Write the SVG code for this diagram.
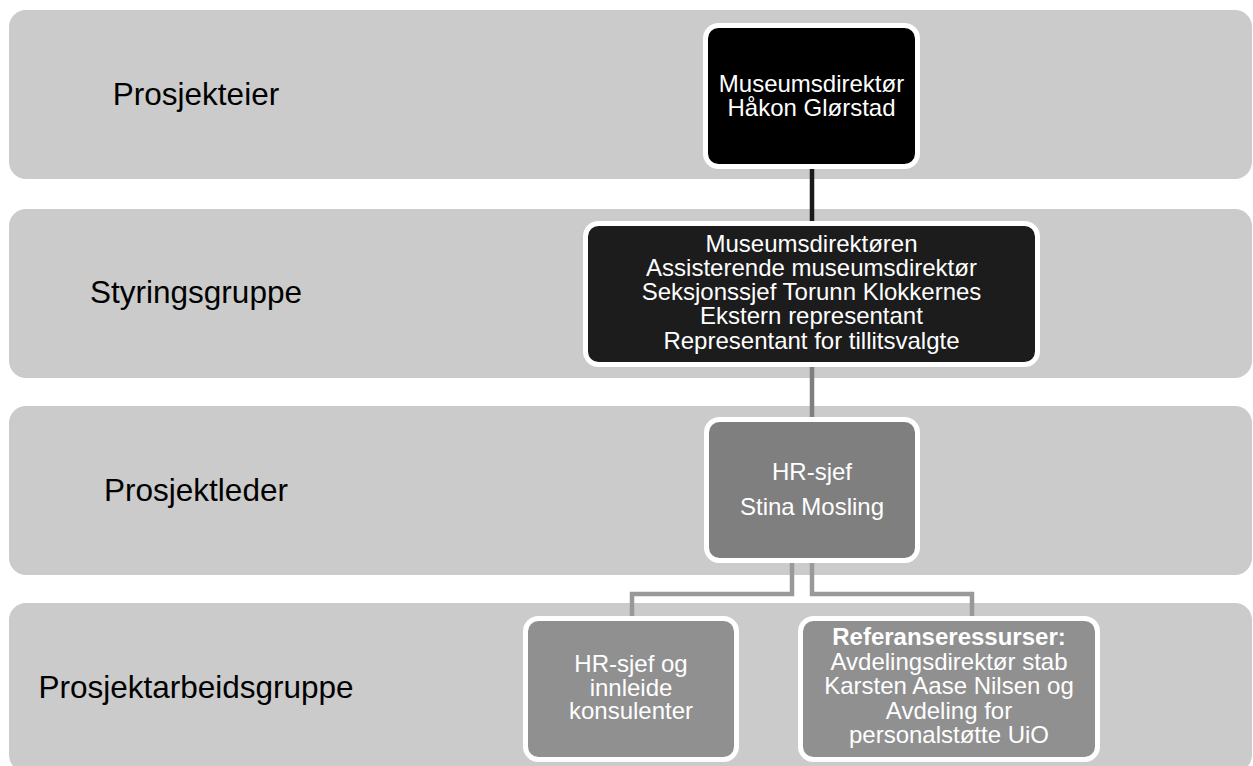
<svg xmlns="http://www.w3.org/2000/svg" width="1253" height="766" viewBox="0 0 1253 766">
<style>
.band{fill:#cbcbcb;}
.lbl{font-family:"Liberation Sans",Arial,sans-serif;font-size:31.5px;fill:#000;text-anchor:middle;}
.node{stroke:#fff;stroke-width:5;}
.nt{font-family:"Liberation Sans",Arial,sans-serif;font-size:24px;fill:#fff;text-anchor:middle;}
.b{font-weight:bold;}
.conn{fill:none;stroke-width:4.5;stroke-linejoin:miter;}
</style>
<rect width="1253" height="766" fill="#ffffff"/>
<g id="bands">
<g id="band-prosjekteier"><rect class="band" x="9" y="10" width="1243" height="169" rx="17"/><text class="lbl" x="196" y="105">Prosjekteier</text></g>
<g id="band-styringsgruppe"><rect class="band" x="9" y="209" width="1243" height="169" rx="17"/><text class="lbl" x="196" y="303">Styringsgruppe</text></g>
<g id="band-prosjektleder"><rect class="band" x="9" y="406" width="1243" height="169" rx="17"/><text class="lbl" x="196" y="501">Prosjektleder</text></g>
<g id="band-prosjektarbeidsgruppe"><rect class="band" x="9" y="603" width="1243" height="169" rx="17"/><text class="lbl" x="196" y="698">Prosjektarbeidsgruppe</text></g>
</g>
<g id="connectors">
<line class="conn" x1="812" y1="166" x2="812" y2="225" stroke="#1a1a1a" stroke-width="5"/>
<line class="conn" x1="812" y1="364" x2="812" y2="421" stroke="#7f7f7f" stroke-width="5"/>
<polyline class="conn" points="792,560 792,594 632,594 632,618" stroke="#999999"/>
<polyline class="conn" points="812,560 812,594 972,594 972,618" stroke="#999999"/>
</g>
<g id="node-museumsdirektor">
<rect class="node" x="705.5" y="25.5" width="212" height="141" rx="13" fill="#000000"/>
<text class="nt" x="811.5" y="92">Museumsdirektør</text>
<text class="nt" x="811.5" y="116">Håkon Glørstad</text>
</g>
<g id="node-styringsgruppe">
<rect class="node" x="585.5" y="223.5" width="452" height="141" rx="13" fill="#1c1c1c"/>
<text class="nt" x="811.5" y="252">Museumsdirektøren</text>
<text class="nt" x="811.5" y="276">Assisterende museumsdirektør</text>
<text class="nt" x="811.5" y="300">Seksjonssjef Torunn Klokkernes</text>
<text class="nt" x="811.5" y="324">Ekstern representant</text>
<text class="nt" x="811.5" y="349">Representant for tillitsvalgte</text>
</g>
<g id="node-prosjektleder">
<rect class="node" x="706.5" y="419.5" width="211" height="141" rx="13" fill="#7f7f7f"/>
<text class="nt" x="812" y="480">HR-sjef</text>
<text class="nt" x="812" y="515">Stina Mosling</text>
</g>
<g id="node-hr-konsulenter">
<rect class="node" x="525.5" y="618.5" width="211" height="141" rx="13" fill="#909090"/>
<text class="nt" x="631" y="672">HR-sjef og</text>
<text class="nt" x="631" y="695.5">innleide</text>
<text class="nt" x="631" y="719">konsulenter</text>
</g>
<g id="node-referanseressurser">
<rect class="node" x="800.5" y="618.5" width="297" height="141" rx="13" fill="#909090"/>
<text class="nt b" x="949" y="645">Referanseressurser:</text>
<text class="nt" x="949" y="669.5">Avdelingsdirektør stab</text>
<text class="nt" x="949" y="694">Karsten Aase Nilsen og</text>
<text class="nt" x="949" y="718.5">Avdeling for</text>
<text class="nt" x="949" y="743">personalstøtte UiO</text>
</g>
</svg>
